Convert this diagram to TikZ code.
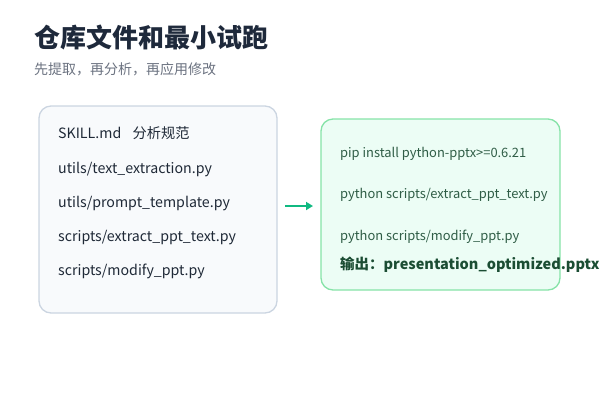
\documentclass[tikz,border=0pt]{standalone}
\usepackage{fontspec}
\setmainfont{Noto Sans CJK SC}
\usetikzlibrary{arrows.meta}
\definecolor{titlec}{HTML}{1E293B}
\definecolor{subc}{HTML}{6B7280}
\definecolor{lfill}{HTML}{F8FAFC}
\definecolor{ldraw}{HTML}{CBD5E1}
\definecolor{ltext}{HTML}{1F2937}
\definecolor{rfill}{HTML}{ECFDF5}
\definecolor{rdraw}{HTML}{86E3A8}
\definecolor{rtext}{HTML}{2F5D46}
\definecolor{rbold}{HTML}{1B4D33}
\definecolor{arrowc}{HTML}{10B981}
\tikzset{
  lefttxt/.style={anchor=base west,inner sep=0pt,font=\fontsize{14.2}{16}\selectfont,text=ltext},
  righttxt/.style={anchor=base west,inner sep=0pt,font=\fontsize{12.9}{14}\selectfont,text=rtext},
  panel/.style={rounded corners=12pt,line width=1.3pt}
}
\begin{document}
\begin{tikzpicture}[x=1pt,y=-1pt]
\useasboundingbox (0,0) rectangle (600,400);
\node[anchor=base west,inner sep=0pt,font=\fontsize{26}{30}\selectfont\bfseries,text=titlec] (title) at (34,47) {仓库文件和最小试跑};
\node[anchor=base west,inner sep=0pt,font=\fontsize{14}{16}\selectfont,text=subc] (sub) at (34,74) {先提取，再分析，再应用修改};
\draw[panel,fill=lfill,draw=ldraw] (39,106) rectangle (277,313);
\node[lefttxt] (l1) at (58,138) {SKILL.md\hspace{0.8em}分析规范};
\node[lefttxt] (l2) at (58,173) {utils/text\_extraction.py};
\node[lefttxt] (l3) at (58,207) {utils/prompt\_template.py};
\node[lefttxt] (l4) at (58,241) {scripts/extract\_ppt\_text.py};
\node[lefttxt] (l5) at (58,275) {scripts/modify\_ppt.py};
\draw[panel,fill=rfill,draw=rdraw] (321,119) rectangle (560,290);
\node[righttxt] (r1) at (340,157) {pip install python-pptx>=0.6.21};
\node[righttxt] (r2) at (340,198) {python scripts/extract\_ppt\_text.py};
\node[righttxt] (r3) at (340,240) {python scripts/modify\_ppt.py};
\node[anchor=base west,inner sep=0pt,font=\fontsize{14.5}{16}\selectfont\bfseries,text=rbold] (r4) at (340,269) {输出：presentation\_optimized.pptx};
\coordinate (a1) at (285,206);
\coordinate (a2) at (313,206);
\draw[arrowc,line width=2.2pt,-{Triangle[length=7pt,width=8pt]}] (a1) -- (a2);
\end{tikzpicture}
\end{document}
